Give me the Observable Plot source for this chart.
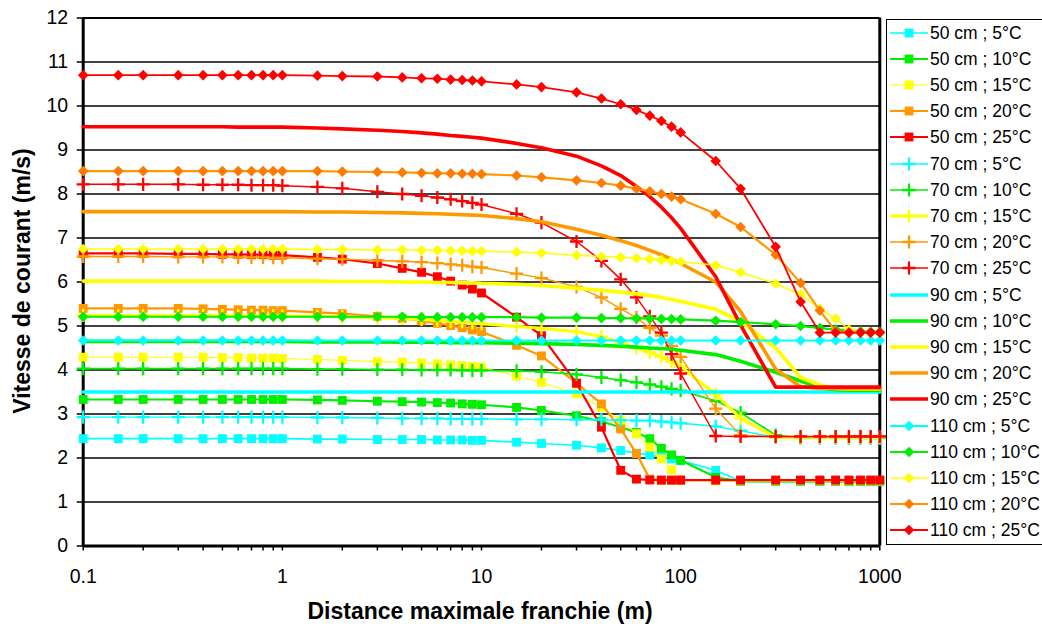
<!DOCTYPE html>
<html><head><meta charset="utf-8">
<script src="https://cdn.jsdelivr.net/npm/d3@7"></script>
<script src="https://cdn.jsdelivr.net/npm/@observablehq/plot@0.6"></script>
<style>
body{margin:0;background:#fff;font-family:"Liberation Sans",Arial,sans-serif;}
#wrap{position:relative;width:1042px;height:624px;overflow:hidden;background:#fff;}
#chart{position:absolute;left:0;top:0;}
.legend{position:absolute;left:886px;top:19px;width:200px;height:526px;border:1.5px solid #000;box-sizing:border-box;background:#fff;}
.item{position:absolute;left:0;height:18px;width:200px;}
.item svg{position:absolute;left:2px;top:0;overflow:visible;}
.item span{position:absolute;left:43px;top:-1px;font-size:17.5px;line-height:20px;color:#000;white-space:nowrap;}
.title{position:absolute;font-weight:bold;font-size:23px;color:#000;white-space:nowrap;}
</style></head><body><div id="wrap"><div id="chart"></div></div>
<script>
// ---------- data ----------
const distances = [0.1,0.15,0.2,0.3,0.4,0.5,0.6,0.7,0.8,0.9,1,1.5,2,3,4,5,6,7,8,9,10,15,20,30,40,50,60,70,80,90,100,150,200,300,400,500,600,700,800,900,1000];
const heights = ["50 cm","70 cm","90 cm","110 cm"];
const temps = ["5°C","10°C","15°C","20°C","25°C"];

// 50 cm
const v50_5  = [2.44,2.44,2.44,2.44,2.44,2.44,2.44,2.44,2.44,2.44,2.44,2.43,2.43,2.42,2.42,2.42,2.41,2.41,2.41,2.40,2.40,2.36,2.33,2.29,2.23,2.17,2.11,2.07,2.02,1.98,1.94,1.72,1.47,1.46,1.46,1.46,1.46,1.46,1.46,1.46,1.46];
const v50_10 = [3.33,3.33,3.33,3.33,3.33,3.33,3.33,3.33,3.33,3.33,3.33,3.32,3.31,3.29,3.28,3.27,3.26,3.25,3.23,3.22,3.21,3.15,3.08,2.96,2.83,2.70,2.58,2.44,2.22,2.07,1.95,1.56,1.47,1.47,1.47,1.47,1.47,1.47,1.47,1.47,1.47];
const v50_15 = [4.29,4.29,4.29,4.29,4.29,4.28,4.28,4.27,4.27,4.27,4.26,4.24,4.22,4.19,4.18,4.16,4.14,4.12,4.10,4.08,4.06,3.86,3.72,3.46,3.15,2.85,2.55,2.25,1.98,1.73,1.50,1.48,1.48,1.48,1.48,1.48,1.48,1.48,1.48,1.48,1.48];
const v50_20 = [5.40,5.40,5.40,5.40,5.39,5.38,5.37,5.36,5.36,5.35,5.35,5.31,5.28,5.22,5.17,5.12,5.06,5.01,4.96,4.91,4.87,4.56,4.32,3.70,3.23,2.66,2.10,1.52,1.49,1.49,1.49,1.49,1.49,1.49,1.49,1.49,1.49,1.49,1.49,1.49,1.49];
const v50_25 = [6.65,6.65,6.65,6.64,6.64,6.63,6.63,6.62,6.62,6.61,6.61,6.56,6.52,6.42,6.31,6.22,6.12,6.02,5.93,5.84,5.75,5.20,4.78,3.70,2.70,1.72,1.52,1.50,1.50,1.50,1.50,1.50,1.50,1.50,1.50,1.50,1.50,1.50,1.50,1.50,1.50];
// 70 cm
const v70_5  = [2.93,2.93,2.93,2.93,2.93,2.93,2.93,2.93,2.93,2.93,2.93,2.92,2.92,2.91,2.90,2.90,2.90,2.89,2.89,2.89,2.89,2.88,2.88,2.87,2.87,2.86,2.85,2.85,2.83,2.81,2.79,2.72,2.62,2.47,2.45,2.45,2.45,2.45,2.45,2.45,2.45];
const v70_10 = [4.03,4.03,4.03,4.03,4.03,4.03,4.03,4.03,4.03,4.03,4.03,4.02,4.02,4.01,4.01,4.00,4.00,4.00,3.99,3.99,3.99,3.98,3.96,3.90,3.83,3.77,3.72,3.67,3.62,3.57,3.53,3.30,3.03,2.52,2.46,2.46,2.46,2.46,2.46,2.46,2.46];
const v70_15 = [5.24,5.24,5.24,5.24,5.24,5.24,5.23,5.23,5.23,5.23,5.23,5.22,5.21,5.19,5.17,5.15,5.13,5.11,5.09,5.07,5.05,4.99,4.95,4.87,4.76,4.62,4.50,4.40,4.30,4.19,4.08,3.45,2.90,2.47,2.47,2.47,2.47,2.47,2.47,2.47,2.47];
const v70_20 = [6.58,6.58,6.58,6.57,6.57,6.57,6.56,6.56,6.56,6.55,6.55,6.53,6.52,6.49,6.47,6.45,6.43,6.40,6.38,6.35,6.33,6.19,6.09,5.89,5.65,5.39,5.19,4.96,4.78,4.55,4.30,3.12,2.52,2.48,2.48,2.48,2.48,2.48,2.48,2.48,2.48];
const v70_25 = [8.22,8.22,8.22,8.22,8.21,8.21,8.21,8.20,8.20,8.20,8.19,8.16,8.13,8.05,8.00,7.96,7.92,7.88,7.84,7.80,7.76,7.55,7.35,6.92,6.48,6.06,5.65,5.22,4.85,4.36,3.92,2.50,2.49,2.49,2.49,2.49,2.49,2.49,2.49,2.49,2.49];
// 90 cm
const v90_5  = [3.50,3.50,3.50,3.50,3.50,3.50,3.50,3.50,3.50,3.50,3.50,3.50,3.50,3.50,3.50,3.50,3.50,3.50,3.50,3.50,3.50,3.50,3.50,3.50,3.50,3.50,3.50,3.50,3.50,3.50,3.50,3.50,3.50,3.50,3.50,3.50,3.50,3.50,3.50,3.50,3.50];
const v90_10 = [4.65,4.65,4.65,4.65,4.65,4.65,4.65,4.65,4.65,4.65,4.65,4.64,4.64,4.64,4.63,4.63,4.63,4.62,4.62,4.62,4.62,4.61,4.60,4.58,4.56,4.54,4.52,4.50,4.49,4.47,4.45,4.35,4.20,3.95,3.75,3.60,3.55,3.54,3.54,3.54,3.54];
const v90_15 = [6.02,6.02,6.02,6.02,6.02,6.02,6.02,6.02,6.02,6.02,6.02,6.02,6.01,6.01,6.00,6.00,5.99,5.99,5.98,5.98,5.97,5.95,5.92,5.86,5.81,5.77,5.73,5.69,5.65,5.60,5.56,5.38,5.10,4.50,3.83,3.66,3.58,3.57,3.57,3.57,3.57];
const v90_20 = [7.60,7.60,7.60,7.60,7.60,7.60,7.60,7.60,7.60,7.60,7.60,7.59,7.59,7.58,7.57,7.56,7.55,7.54,7.53,7.52,7.51,7.44,7.37,7.20,7.06,6.94,6.83,6.72,6.62,6.52,6.42,6.00,5.33,4.02,3.62,3.58,3.58,3.58,3.58,3.58,3.58];
const v90_25 = [9.53,9.53,9.53,9.53,9.53,9.53,9.52,9.52,9.52,9.52,9.52,9.50,9.48,9.45,9.42,9.39,9.36,9.33,9.31,9.29,9.27,9.15,9.05,8.86,8.64,8.42,8.17,7.94,7.70,7.46,7.22,6.12,5.02,3.61,3.61,3.61,3.61,3.61,3.61,3.61,3.61];
// 110 cm
const v110_5  = [4.67,4.67,4.67,4.67,4.67,4.67,4.67,4.67,4.67,4.67,4.67,4.67,4.67,4.67,4.67,4.67,4.67,4.67,4.67,4.67,4.67,4.67,4.67,4.67,4.67,4.67,4.67,4.67,4.67,4.67,4.67,4.67,4.67,4.67,4.67,4.67,4.67,4.67,4.67,4.67,4.67];
const v110_10 = [5.21,5.21,5.21,5.21,5.21,5.21,5.21,5.21,5.21,5.21,5.21,5.21,5.21,5.21,5.21,5.20,5.20,5.20,5.20,5.20,5.20,5.20,5.19,5.19,5.18,5.18,5.17,5.17,5.16,5.16,5.15,5.12,5.09,5.04,5.00,4.95,4.92,4.90,4.88,4.87,4.86];
const v110_15 = [6.75,6.75,6.75,6.75,6.75,6.75,6.75,6.75,6.75,6.75,6.75,6.74,6.74,6.73,6.73,6.72,6.72,6.71,6.71,6.70,6.70,6.68,6.66,6.61,6.58,6.56,6.54,6.52,6.50,6.48,6.46,6.38,6.22,5.96,5.72,5.39,5.17,4.92,4.85,4.84,4.84];
const v110_20 = [8.52,8.52,8.52,8.52,8.52,8.52,8.52,8.52,8.52,8.52,8.52,8.52,8.51,8.50,8.49,8.48,8.47,8.47,8.46,8.46,8.45,8.42,8.38,8.31,8.25,8.19,8.12,8.06,8.00,7.94,7.88,7.55,7.25,6.62,5.98,5.35,4.88,4.85,4.85,4.85,4.85];
const v110_25 = [10.70,10.70,10.70,10.70,10.70,10.70,10.70,10.70,10.70,10.70,10.70,10.69,10.68,10.67,10.65,10.63,10.62,10.60,10.59,10.58,10.56,10.49,10.43,10.31,10.17,10.04,9.91,9.78,9.66,9.53,9.40,8.75,8.12,6.80,5.55,4.85,4.85,4.85,4.85,4.85,4.85];

const xTickLabels = [0.1,1,10,100,1000];
const xMinorTicks = [0.1,0.2,0.3,0.4,0.5,0.6,0.7,0.8,0.9,1,2,3,4,5,6,7,8,9,10,20,30,40,50,60,70,80,90,100,200,300,400,500,600,700,800,900,1000];
const yTicks = [0,1,2,3,4,5,6,7,8,9,10,11,12];
const xTitle = "Distance maximale franchie (m)";
const yTitle = "Vitesse de courant (m/s)";

// ---------- styles ----------
const tempColor = ["#00FFFF","#00EE00","#FFFF00","#FF9900","#FF0000"];
const heightSymbol = ["square","plus",null,"diamond2"];
const symbolR = {square:5.0, plus:4.3, diamond2:4.8};
const widths = [
  [1.6,2.2,1.1,2.2,2.2],   // 50 cm
  [1.4,1.7,3,1.4,1.5],     // 70 cm
  [3.6,3.6,3.6,3.6,3.6],   // 90 cm
  [2.2,2.2,1.5,2.2,1.8]    // 110 cm
];
const valueTable = [
  [v50_5,v50_10,v50_15,v50_20,v50_25],
  [v70_5,v70_10,v70_15,v70_20,v70_25],
  [v90_5,v90_10,v90_15,v90_20,v90_25],
  [v110_5,v110_10,v110_15,v110_20,v110_25]
];

const series = [];
heights.forEach((h, hi) => temps.forEach((t, ti) => {
  series.push({
    label: `${h} ; ${t}`,
    values: valueTable[hi][ti],
    color: tempColor[ti],
    markColor: (hi === 3 && ti === 3) ? "#FF7A00" : tempColor[ti],
    symbol: heightSymbol[hi],
    lw: widths[hi][ti]
  });
}));

// ---------- chart ----------
const W = 1042, H = 624;
const marks = [
  Plot.gridY(yTicks, {stroke: "#000", strokeOpacity: 1, strokeWidth: 1.3}),
  Plot.ruleY([12], {stroke: "#000", strokeWidth: 2}),
  Plot.ruleX([1000], {stroke: "#000", strokeWidth: 3}),
  Plot.ruleX([0.1], {stroke: "#000", strokeWidth: 3}),
  Plot.ruleY([0], {stroke: "#000", strokeWidth: 3}),
  Plot.axisX({ticks: xMinorTicks, tickSize: 5, tickFormat: () => "", label: null, strokeWidth: 1.5}),
  Plot.axisX({ticks: xTickLabels, tickSize: 0, tickPadding: 23, tickFormat: d => String(d), label: null, fontSize: 19.5, fill: "#000"}),
  Plot.axisY({ticks: yTicks, tickSize: 6, tickPadding: 9, label: null, fontSize: 19.5, fill: "#000", strokeWidth: 1.5})
];
series.forEach(s => {
  const rows = distances.map((d, i) => ({x: d, y: s.values[i]}));
  marks.push(Plot.line(rows, {x: "x", y: "y", stroke: s.color, strokeWidth: s.lw}));
  if (s.symbol) {
    const isPlus = s.symbol === "plus";
    marks.push(Plot.dot(rows, {
      x: "x", y: "y", symbol: s.symbol, r: symbolR[s.symbol],
      fill: isPlus ? "none" : s.markColor,
      stroke: isPlus ? s.markColor : "none",
      strokeWidth: isPlus ? 2.3 : 0
    }));
  }
});

const chart = Plot.plot({
  width: W, height: H,
  marginLeft: 82.7, marginRight: W - 879.3, marginTop: 17.5, marginBottom: H - 545.5,
  style: {fontFamily: "Liberation Sans, Arial, sans-serif", fontSize: "19.5px", color: "#000", background: "#fff"},
  x: {type: "log", domain: [0.1, 1000]},
  y: {domain: [0, 12]},
  marks
});
document.getElementById("chart").appendChild(chart);

const wrap = d3.select("#wrap");
wrap.append("div").attr("class", "title")
  .style("left", "480px").style("top", "598px").style("transform", "translateX(-50%)")
  .text(xTitle);
wrap.append("div").attr("class", "title")
  .style("left", "22px").style("top", "281px")
  .style("transform", "translate(-50%,-50%) rotate(-90deg)")
  .text(yTitle);

// ---------- legend ----------
const symMap = {square: d3.symbolSquare, plus: d3.symbolPlus, diamond2: d3.symbolDiamond2};
const legend = wrap.append("div").attr("class", "legend");
series.forEach((s, i) => {
  const cy = 33 - 20.5 + i * 26.2;
  const item = legend.append("div").attr("class", "item").style("top", (cy - 9) + "px");
  const svg = item.append("svg").attr("width", 40).attr("height", 18);
  svg.append("line").attr("x1", 1).attr("x2", 39).attr("y1", 9).attr("y2", 9)
    .attr("stroke", s.color).attr("stroke-width", s.lw);
  if (s.symbol) {
    const r = symbolR[s.symbol];
    const isPlus = s.symbol === "plus";
    svg.append("path").attr("transform", "translate(20,9)")
      .attr("d", d3.symbol(symMap[s.symbol], Math.PI * r * r)())
      .attr("fill", isPlus ? "none" : s.markColor)
      .attr("stroke", isPlus ? s.markColor : "none")
      .attr("stroke-width", isPlus ? 2.3 : 0);
  }
  item.append("span").text(s.label);
});
</script></body></html>
